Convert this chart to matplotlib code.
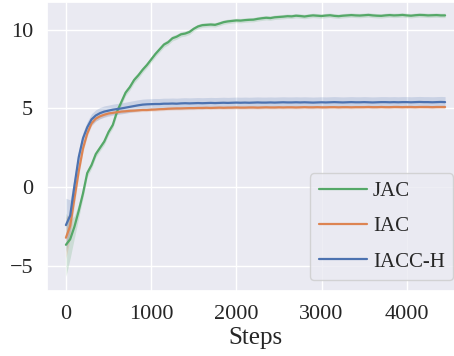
import numpy as np
import matplotlib
matplotlib.use("Agg")
import matplotlib.pyplot as plt
import seaborn as sns

# step grid (every 50 steps)
steps = np.arange(0, 4500, 50)

jac_mean = [-3.65, -3.3, -2.5, -1.5, -0.4, 0.9, 1.4, 2.1, 2.5, 2.9,
            3.5, 3.95, 4.8, 5.4, 6.0, 6.35, 6.8, 7.1, 7.45, 7.75,
            8.1, 8.45, 8.75, 9.05, 9.2, 9.45, 9.55, 9.7, 9.75, 9.85,
            10.05, 10.2, 10.28, 10.3, 10.32, 10.3, 10.38, 10.47, 10.52, 10.55,
            10.58, 10.57, 10.6, 10.62, 10.63, 10.68, 10.72, 10.75, 10.73, 10.78,
            10.8, 10.82, 10.85, 10.84, 10.88, 10.86, 10.83, 10.87, 10.9, 10.88,
            10.86, 10.89, 10.91, 10.87, 10.85, 10.88, 10.9, 10.92, 10.9, 10.89,
            10.91, 10.93, 10.9, 10.88, 10.87, 10.9, 10.92, 10.9, 10.91, 10.93,
            10.9, 10.88, 10.91, 10.93, 10.92, 10.9, 10.91, 10.92, 10.9, 10.9]
jac_err = [2.0, 1.2, 0.7, 0.45, 0.3, 0.25, 0.22, 0.2, 0.2, 0.2,
           0.2, 0.2, 0.2, 0.2, 0.2, 0.2, 0.2, 0.2, 0.18, 0.18,
           0.18, 0.18, 0.18, 0.17, 0.17, 0.17, 0.16, 0.16, 0.16, 0.16] + [0.14] * 60

iac_mean = [-3.2, -2.45, -0.7, 1.0, 2.45, 3.4, 4.05, 4.35, 4.5, 4.6,
            4.68, 4.72, 4.76, 4.8, 4.82, 4.85, 4.86, 4.88, 4.9, 4.9,
            4.92, 4.93, 4.95, 4.96, 4.98, 4.99, 5.0, 5.0, 5.01, 5.02,
            5.02, 5.03, 5.03, 5.04, 5.03, 5.04, 5.05, 5.04, 5.05, 5.05,
            5.06, 5.05, 5.05, 5.06, 5.06, 5.05, 5.06, 5.07, 5.06, 5.06,
            5.07, 5.06, 5.07, 5.07, 5.06, 5.07, 5.08, 5.07, 5.07, 5.08,
            5.07, 5.07, 5.08, 5.08, 5.07, 5.08, 5.08, 5.07, 5.08, 5.08,
            5.08, 5.09, 5.08, 5.08, 5.09, 5.08, 5.08, 5.09, 5.09, 5.08,
            5.09, 5.09, 5.08, 5.09, 5.09, 5.09, 5.08, 5.09, 5.09, 5.09]
iac_err = [1.3, 0.8, 0.45, 0.3, 0.22, 0.18, 0.16, 0.15, 0.14, 0.13] + [0.1] * 80

iacch_mean = [-2.4, -1.8, 0.1, 1.9, 3.1, 3.8, 4.3, 4.55, 4.7, 4.8,
              4.86, 4.92, 4.96, 5.0, 5.05, 5.1, 5.15, 5.2, 5.24, 5.26,
              5.27, 5.28, 5.28, 5.3, 5.3, 5.31, 5.3, 5.32, 5.33, 5.32,
              5.33, 5.34, 5.33, 5.34, 5.35, 5.34, 5.35, 5.36, 5.35, 5.36,
              5.37, 5.36, 5.37, 5.36, 5.37, 5.38, 5.37, 5.37, 5.38, 5.37,
              5.38, 5.39, 5.38, 5.38, 5.39, 5.38, 5.39, 5.38, 5.37, 5.38,
              5.39, 5.38, 5.39, 5.4, 5.39, 5.38, 5.39, 5.4, 5.39, 5.39,
              5.4, 5.39, 5.38, 5.39, 5.4, 5.4, 5.39, 5.4, 5.39, 5.4,
              5.4, 5.39, 5.4, 5.41, 5.4, 5.4, 5.39, 5.4, 5.41, 5.4]
iacch_err = [1.7, 1.0, 0.6, 0.45, 0.38, 0.36, 0.36, 0.36, 0.36, 0.36] + [0.35] * 80

series = [("JAC", jac_mean, jac_err, "#55A868"),
          ("IAC", iac_mean, iac_err, "#DD8452"),
          ("IACC-H", iacch_mean, iacch_err, "#4C72B0")]

sns.set_theme(style="darkgrid")
plt.rcParams['font.family'] = ['Liberation Serif', 'DejaVu Serif']

fig = plt.figure(figsize=(4.54, 3.56), dpi=100)
# axes runs a little past the right edge of the picture, as in the original crop
ax = fig.add_axes([47 / 454, 1 - 291 / 356, 417 / 454, 289 / 356])

for name, m, e, c in series:
    m = np.array(m)
    e = np.array(e)
    ax.fill_between(steps, m - e, m + e, color=c, alpha=0.2, linewidth=0)
    ax.plot(steps, m, color=c, lw=1.6, label=name)

ax.set_xlim(-222, 4672)
ax.set_ylim(-6.58, 11.75)
ax.set_xticks([0, 1000, 2000, 3000, 4000])
ax.set_yticks([-5, 0, 5, 10])
ax.tick_params(labelsize=16, pad=4)
ax.set_xlabel("Steps", fontsize=18, labelpad=2)

ax.legend(loc="lower right", fontsize=15, handlelength=2.3, labelspacing=0.75,
          handletextpad=0.3, borderpad=0.4,
          bbox_to_anchor=(453 / 454, 1 - 280 / 356),
          bbox_transform=fig.transFigure, borderaxespad=0)

fig.savefig("out.png", dpi=100)
